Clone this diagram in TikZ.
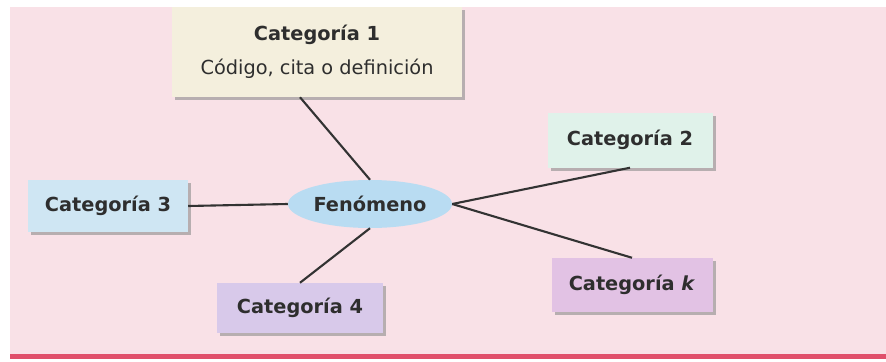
\documentclass[tikz,border=0pt]{standalone}
\usepackage{fontspec}
\setmainfont{DejaVu Sans}
\usepackage{tikz}
\usetikzlibrary{positioning, calc, shapes.geometric, shadows}
\usepackage{xcolor}
\definecolor{pageBg}{HTML}{F9E1E7}
\definecolor{lineRed}{HTML}{E04F6B}
\definecolor{edgeGray}{HTML}{333333}
\definecolor{textGray}{HTML}{2E2E2E}
\definecolor{creamFill}{HTML}{F4EFDD}
\definecolor{mintFill}{HTML}{E0F2EA}
\definecolor{skyFill}{HTML}{CFE6F3}
\definecolor{blueFill}{HTML}{B9DCF2}
\definecolor{lilacFill}{HTML}{D8C9EA}
\definecolor{orchidFill}{HTML}{E2C2E4}

\begin{document}
\begin{tikzpicture}[x=0.03cm, y=-0.03cm,
      catbox/.style={rectangle, fill=#1, minimum width=4.9cm, minimum height=1.6cm, align=center, text=textGray,
        font=\bfseries\fontsize{16.5}{29}\selectfont,
        drop shadow={shadow xshift=0.1cm, shadow yshift=-0.1cm, fill=black!45, opacity=0.6}},
      core/.style={ellipse, fill=blueFill, minimum width=4.92cm, minimum height=1.44cm, inner sep=0pt, text=textGray,
        font=\bfseries\fontsize{16.5}{18}\selectfont},
      link/.style={draw=edgeGray, line width=1.8pt}
    ]
      \useasboundingbox (0,0) rectangle (886,362);
      \fill[pageBg] (10,7) rectangle (886,356);
      \fill[lineRed] (10,354) rectangle (886,359);

      \node[core] (fen) at (370,204) {Fenómeno};

      \node[catbox=creamFill, minimum width=8.7cm, minimum height=2.7cm] (cat1) at (317,52)
        {Categoría 1\\{\mdseries Código, cita o definición}};
      \node[catbox=mintFill, minimum width=4.95cm, minimum height=1.65cm] (cat2) at (630,140) {Categoría 2};
      \node[catbox=skyFill, minimum width=4.8cm, minimum height=1.56cm] (cat3) at (108,206) {Categoría 3};
      \node[catbox=lilacFill, minimum width=4.98cm, minimum height=1.5cm] (cat4) at (300,308) {Categoría 4};
      \node[catbox=orchidFill, minimum width=4.83cm, minimum height=1.62cm] (catk) at (632,285) {Categoría \textit{k}};

      \draw[link] ($(cat1.south)+(-17,0)$) -- (fen.north);
      \draw[link] (cat3.east) -- (fen.west);
      \draw[link] (fen.south) -- (cat4.north);
      \draw[link] (fen.east) -- (cat2.south);
      \draw[link] (fen.east) -- (catk.north);
    \end{tikzpicture}
\end{document}
